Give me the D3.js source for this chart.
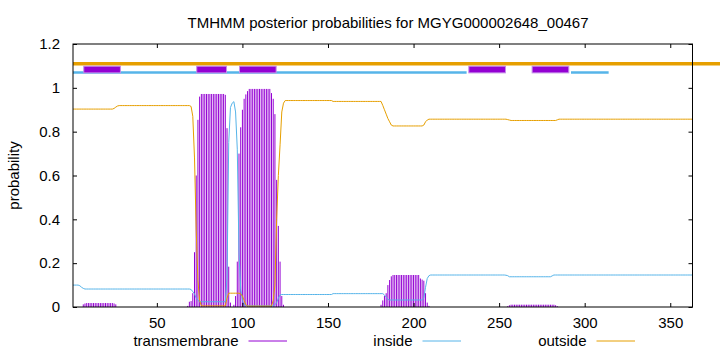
<!DOCTYPE html>
<html lang="en">
<head>
  <meta charset="UTF-8">
  <title>TMHMM posterior probabilities</title>
  <style>
    body { margin: 0; background: #fff; }
    svg { display: block; font-family: "Liberation Sans", Arial, sans-serif; }
    .tick text { font-size: 15px; }
  </style>
</head>
<body>
  <svg id="grafico" width="720" height="352"></svg>

  <script src="https://d3js.org/d3.v7.min.js"></script>
  <script>
    const titulo = 'TMHMM posterior probabilities for MGYG000002648_00467';

    // posterior probabilities per residue, residues 1..363 (20 per row)
    const transmembrane = [
      0,0,0,0,0,0,0.012,0.016,0.018,0.018,0.018,0.018,0.018,0.018,0.018,0.018,0.018,0.018,0.018,0.018,
      0.018,0.018,0.018,0.018,0.016,0.012,0,0,0,0,0,0,0,0,0,0,0,0,0,0,
      0,0,0,0,0,0,0,0,0,0,0,0,0,0,0,0,0,0,0,0,
      0,0,0,0,0,0,0,0.005,0.024,0.027,0.063,0.25,0.60,0.854,0.96,0.972,0.972,0.972,0.972,0.972,
      0.972,0.972,0.972,0.972,0.972,0.972,0.972,0.972,0.972,0.968,0.816,0.184,0.02,0,0.01,0.05,0.207,0.70,0.82,0.90,
      0.95,0.97,0.985,0.995,0.995,0.995,0.995,0.995,0.995,0.995,0.995,0.995,0.995,0.995,0.995,0.995,0.976,0.95,0.88,0.58,
      0.37,0.207,0.05,0.01,0,0,0,0,0,0,0,0,0,0,0,0,0,0,0,0,
      0,0,0,0,0,0,0,0,0,0,0,0,0,0,0,0,0,0,0,0,
      0,0,0,0,0,0,0,0,0,0,0,0,0,0,0,0,0,0,0,0,
      0.01,0.03,0.05,0.063,0.10,0.123,0.14,0.146,0.146,0.146,0.146,0.146,0.146,0.146,0.146,0.146,0.146,0.146,0.146,0.146,
      0.146,0.146,0.146,0.13,0.125,0.12,0.063,0.02,0.005,0,0,0,0,0,0,0,0,0,0,0,
      0,0,0,0,0,0,0,0,0,0,0,0,0,0,0,0,0,0,0,0,
      0,0,0,0,0,0,0,0,0,0,0,0,0,0,0.004,0.008,0.0105,0.0105,0.0105,0.0105,
      0.0105,0.0105,0.0105,0.0105,0.0105,0.0105,0.0105,0.0105,0.0105,0.0105,0.0105,0.0105,0.0105,0.0105,0.0105,0.0105,0.0105,0.0105,0.0105,0.0105,
      0.0105,0.0105,0.008,0.004,0,0,0,0,0,0,0,0,0,0,0,0,0,0,0,0,
      0,0,0,0,0,0,0,0,0,0,0,0,0,0,0,0,0,0,0,0,
      0,0,0,0,0,0,0,0,0,0,0,0,0,0,0,0,0,0,0,0,
      0,0,0,0,0,0,0,0,0,0,0,0,0,0,0,0,0,0,0,0,
      0,0,0
    ];

    const inside = [
      0.10,0.10,0.10,0.10,0.097,0.09,0.085,0.082,0.082,0.082,0.082,0.082,0.082,0.082,0.082,0.082,0.082,0.082,0.082,0.082,
      0.082,0.082,0.082,0.082,0.082,0.082,0.082,0.082,0.082,0.082,0.082,0.082,0.082,0.082,0.082,0.082,0.082,0.082,0.082,0.082,
      0.082,0.082,0.082,0.082,0.082,0.082,0.082,0.082,0.082,0.082,0.082,0.082,0.082,0.082,0.082,0.082,0.082,0.082,0.082,0.082,
      0.082,0.082,0.082,0.082,0.082,0.082,0.082,0.082,0.082,0.08,0.07,0.06,0.04,0.03,0.024,0.024,0.024,0.024,0.024,0.024,
      0.024,0.024,0.024,0.024,0.024,0.024,0.024,0.024,0.024,0.024,0.13,0.75,0.91,0.93,0.937,0.89,0.72,0.25,0.08,0.03,
      0.01,0.006,0.005,0.005,0.005,0.005,0.005,0.005,0.005,0.005,0.005,0.005,0.005,0.005,0.005,0.005,0.005,0.005,0.01,0.02,
      0.04,0.055,0.057,0.057,0.057,0.057,0.057,0.057,0.057,0.057,0.057,0.057,0.057,0.057,0.057,0.057,0.057,0.057,0.057,0.057,
      0.057,0.057,0.057,0.057,0.057,0.057,0.057,0.057,0.057,0.057,0.057,0.057,0.061,0.061,0.061,0.061,0.061,0.061,0.061,0.061,
      0.061,0.061,0.061,0.061,0.061,0.061,0.061,0.061,0.061,0.061,0.061,0.061,0.061,0.061,0.061,0.061,0.061,0.061,0.061,0.061,
      0.061,0.061,0.055,0.045,0.035,0.032,0.032,0.032,0.032,0.032,0.032,0.032,0.032,0.032,0.032,0.032,0.032,0.032,0.032,0.032,
      0.032,0.032,0.032,0.032,0.032,0.04,0.09,0.13,0.143,0.146,0.146,0.146,0.146,0.146,0.146,0.146,0.146,0.146,0.146,0.146,
      0.146,0.146,0.146,0.146,0.146,0.146,0.146,0.146,0.146,0.146,0.146,0.146,0.146,0.146,0.146,0.146,0.146,0.146,0.146,0.146,
      0.146,0.146,0.146,0.146,0.146,0.146,0.146,0.146,0.146,0.146,0.146,0.146,0.146,0.145,0.143,0.138,0.138,0.138,0.138,0.138,
      0.138,0.138,0.138,0.138,0.138,0.138,0.138,0.138,0.138,0.138,0.138,0.138,0.138,0.138,0.138,0.138,0.138,0.138,0.138,0.138,
      0.142,0.146,0.146,0.146,0.146,0.146,0.146,0.146,0.146,0.146,0.146,0.146,0.146,0.146,0.146,0.146,0.146,0.146,0.146,0.146,
      0.146,0.146,0.146,0.146,0.146,0.146,0.146,0.146,0.146,0.146,0.146,0.146,0.146,0.146,0.146,0.146,0.146,0.146,0.146,0.146,
      0.146,0.146,0.146,0.146,0.146,0.146,0.146,0.146,0.146,0.146,0.146,0.146,0.146,0.146,0.146,0.146,0.146,0.146,0.146,0.146,
      0.146,0.146,0.146,0.146,0.146,0.146,0.146,0.146,0.146,0.146,0.146,0.146,0.146,0.146,0.146,0.146,0.146,0.146,0.146,0.146,
      0.146,0.146,0.146
    ];

    const outside = [
      0.903,0.903,0.903,0.903,0.903,0.903,0.903,0.903,0.903,0.903,0.903,0.903,0.903,0.903,0.903,0.903,0.903,0.903,0.903,0.903,
      0.903,0.903,0.903,0.903,0.906,0.912,0.917,0.919,0.919,0.919,0.919,0.919,0.919,0.919,0.919,0.919,0.919,0.919,0.919,0.919,
      0.919,0.919,0.919,0.919,0.919,0.919,0.919,0.919,0.919,0.919,0.919,0.919,0.919,0.919,0.919,0.919,0.919,0.919,0.919,0.919,
      0.919,0.919,0.919,0.919,0.919,0.919,0.919,0.919,0.919,0.915,0.87,0.68,0.35,0.12,0.03,0.005,0.005,0.005,0.005,0.005,
      0.005,0.005,0.005,0.005,0.005,0.005,0.005,0.005,0.005,0.005,0.04,0.063,0.063,0.063,0.063,0.063,0.063,0.063,0.06,0.05,
      0.03,0.01,0.004,0.004,0.004,0.004,0.004,0.004,0.004,0.004,0.004,0.004,0.004,0.004,0.004,0.004,0.004,0.03,0.10,0.40,
      0.60,0.74,0.89,0.93,0.942,0.942,0.942,0.942,0.942,0.942,0.942,0.942,0.942,0.942,0.942,0.942,0.942,0.942,0.942,0.942,
      0.942,0.942,0.942,0.942,0.942,0.942,0.942,0.942,0.942,0.942,0.942,0.942,0.938,0.938,0.938,0.938,0.938,0.938,0.938,0.938,
      0.938,0.938,0.938,0.938,0.938,0.938,0.938,0.938,0.938,0.938,0.938,0.938,0.938,0.938,0.938,0.938,0.938,0.938,0.938,0.938,
      0.938,0.92,0.90,0.88,0.86,0.845,0.83,0.826,0.826,0.826,0.826,0.826,0.826,0.826,0.826,0.826,0.826,0.826,0.826,0.826,
      0.826,0.826,0.826,0.826,0.826,0.83,0.845,0.853,0.857,0.857,0.857,0.857,0.857,0.857,0.857,0.857,0.857,0.857,0.857,0.857,
      0.857,0.857,0.857,0.857,0.857,0.857,0.857,0.857,0.857,0.857,0.857,0.857,0.857,0.857,0.857,0.857,0.857,0.857,0.857,0.857,
      0.857,0.857,0.857,0.857,0.857,0.857,0.857,0.857,0.857,0.857,0.857,0.857,0.857,0.857,0.855,0.853,0.851,0.851,0.851,0.851,
      0.851,0.851,0.851,0.851,0.851,0.851,0.851,0.851,0.851,0.851,0.851,0.851,0.851,0.851,0.851,0.851,0.851,0.851,0.851,0.851,
      0.851,0.851,0.851,0.854,0.857,0.857,0.857,0.857,0.857,0.857,0.857,0.857,0.857,0.857,0.857,0.857,0.857,0.857,0.857,0.857,
      0.857,0.857,0.857,0.857,0.857,0.857,0.857,0.857,0.857,0.857,0.857,0.857,0.857,0.857,0.857,0.857,0.857,0.857,0.857,0.857,
      0.857,0.857,0.857,0.857,0.857,0.857,0.857,0.857,0.857,0.857,0.857,0.857,0.857,0.857,0.857,0.857,0.857,0.857,0.857,0.857,
      0.857,0.857,0.857,0.857,0.857,0.857,0.857,0.857,0.857,0.857,0.857,0.857,0.857,0.857,0.857,0.857,0.857,0.857,0.857,0.857,
      0.857,0.857,0.857
    ];

    // predicted topology drawn above the curves (residue ranges)
    const helices = [[7, 29], [73, 91], [98, 120], [232, 254], [269, 291]];
    const insideSegs = [[1, 231], [292, 314]];
    const outsideSegs = [[1, 380]];

    const xTicks = [50, 100, 150, 200, 250, 300, 350];
    const yTicks = [0, 0.2, 0.4, 0.6, 0.8, 1, 1.2];
    const yTickLabels = ['0', '0.2', '0.4', '0.6', '0.8', '1', '1.2'];

    const cores = { tm: '#9400d3', inside: '#56b4e9', outside: '#e69f00' };

    const svg = d3.select('#grafico');
    const margem = { left: 73, right: 692.5, top: 44, bottom: 307 };

    const x = d3.scaleLinear().domain([1, 363]).range([margem.left, margem.right]);
    const y = d3.scaleLinear().domain([0, 1.2]).range([margem.bottom, margem.top]);

    const residuos = transmembrane.map((v, i) => i + 1);

    // impulses for the transmembrane probability
    svg.append('g')
      .selectAll('line')
      .data(residuos)
      .enter().append('line')
      .attr('x1', d => x(d))
      .attr('x2', d => x(d))
      .attr('y1', y(0))
      .attr('y2', d => y(transmembrane[d - 1]))
      .attr('stroke', cores.tm)
      .attr('stroke-width', 1);

    const linha = serie => d3.line()
      .x(d => x(d))
      .y(d => y(serie[d - 1]));

    svg.append('path')
      .attr('d', linha(inside)(residuos))
      .attr('fill', 'none')
      .attr('stroke', cores.inside)
      .attr('stroke-width', 1);

    svg.append('path')
      .attr('d', linha(outside)(residuos))
      .attr('fill', 'none')
      .attr('stroke', cores.outside)
      .attr('stroke-width', 1);

    // topology bar
    svg.append('g').selectAll('line')
      .data(outsideSegs)
      .enter().append('line')
      .attr('x1', d => x(d[0])).attr('x2', d => x(d[1]))
      .attr('y1', y(1.11)).attr('y2', y(1.11))
      .attr('stroke', cores.outside)
      .attr('stroke-width', 3.5);

    svg.append('g').selectAll('line')
      .data(insideSegs)
      .enter().append('line')
      .attr('x1', d => x(d[0])).attr('x2', d => x(d[1]))
      .attr('y1', y(1.07)).attr('y2', y(1.07))
      .attr('stroke', cores.inside)
      .attr('stroke-width', 2.7);

    svg.append('g').selectAll('rect')
      .data(helices)
      .enter().append('rect')
      .attr('x', d => x(d[0]) + 0.5)
      .attr('width', d => x(d[1]) - x(d[0]) - 1)
      .attr('y', y(1.101) + 0.5)
      .attr('height', y(1.066) - y(1.101) - 1)
      .attr('fill', cores.tm)
      .attr('stroke', '#c48ee8')
      .attr('stroke-width', 1);

    // frame
    svg.append('rect')
      .attr('x', margem.left)
      .attr('y', margem.top)
      .attr('width', margem.right - margem.left)
      .attr('height', margem.bottom - margem.top)
      .attr('fill', 'none')
      .attr('stroke', '#000')
      .attr('stroke-width', 1);

    // axes, ticks pointing inward like gnuplot
    const eixoX = svg.append('g')
      .attr('transform', `translate(0,${margem.bottom})`)
      .call(d3.axisBottom(x).tickValues(xTicks).tickSize(-4).tickPadding(10).tickFormat(d3.format('d')));
    const eixoXTopo = svg.append('g')
      .attr('transform', `translate(0,${margem.top})`)
      .call(d3.axisTop(x).tickValues(xTicks).tickSize(-4).tickFormat(''));
    const eixoY = svg.append('g')
      .attr('transform', `translate(${margem.left},0)`)
      .call(d3.axisLeft(y).tickValues(yTicks).tickSize(-4).tickPadding(13)
        .tickFormat((d, i) => yTickLabels[i]));
    const eixoYDir = svg.append('g')
      .attr('transform', `translate(${margem.right},0)`)
      .call(d3.axisRight(y).tickValues(yTicks).tickSize(-4).tickFormat(''));

    [eixoX, eixoXTopo, eixoY, eixoYDir].forEach(g => {
      g.select('.domain').remove();
      g.selectAll('.tick line').attr('stroke', '#000');
      g.selectAll('.tick text').attr('fill', '#000').style('font-family', '"Liberation Sans", Arial, sans-serif');
    });

    svg.append('text')
      .attr('x', 388)
      .attr('y', 27.5)
      .attr('text-anchor', 'middle')
      .style('font-size', '15px')
      .text(titulo);

    svg.append('text')
      .attr('transform', 'translate(19,175.5) rotate(-90)')
      .attr('text-anchor', 'middle')
      .style('font-size', '15px')
      .text('probability');

    // legend
    const legenda = [
      { nome: 'transmembrane', fim: 238.5, cor: cores.tm },
      { nome: 'inside', fim: 412.5, cor: cores.inside },
      { nome: 'outside', fim: 586.5, cor: cores.outside }
    ];
    const itens = svg.append('g').selectAll('g')
      .data(legenda)
      .enter().append('g');
    itens.append('text')
      .attr('x', d => d.fim)
      .attr('y', 346)
      .attr('text-anchor', 'end')
      .style('font-size', '15px')
      .text(d => d.nome);
    itens.append('line')
      .attr('x1', d => d.fim + 10)
      .attr('x2', d => d.fim + 48.5)
      .attr('y1', 341).attr('y2', 341)
      .attr('stroke', d => d.cor)
      .attr('stroke-width', 1);
  </script>
</body>
</html>
